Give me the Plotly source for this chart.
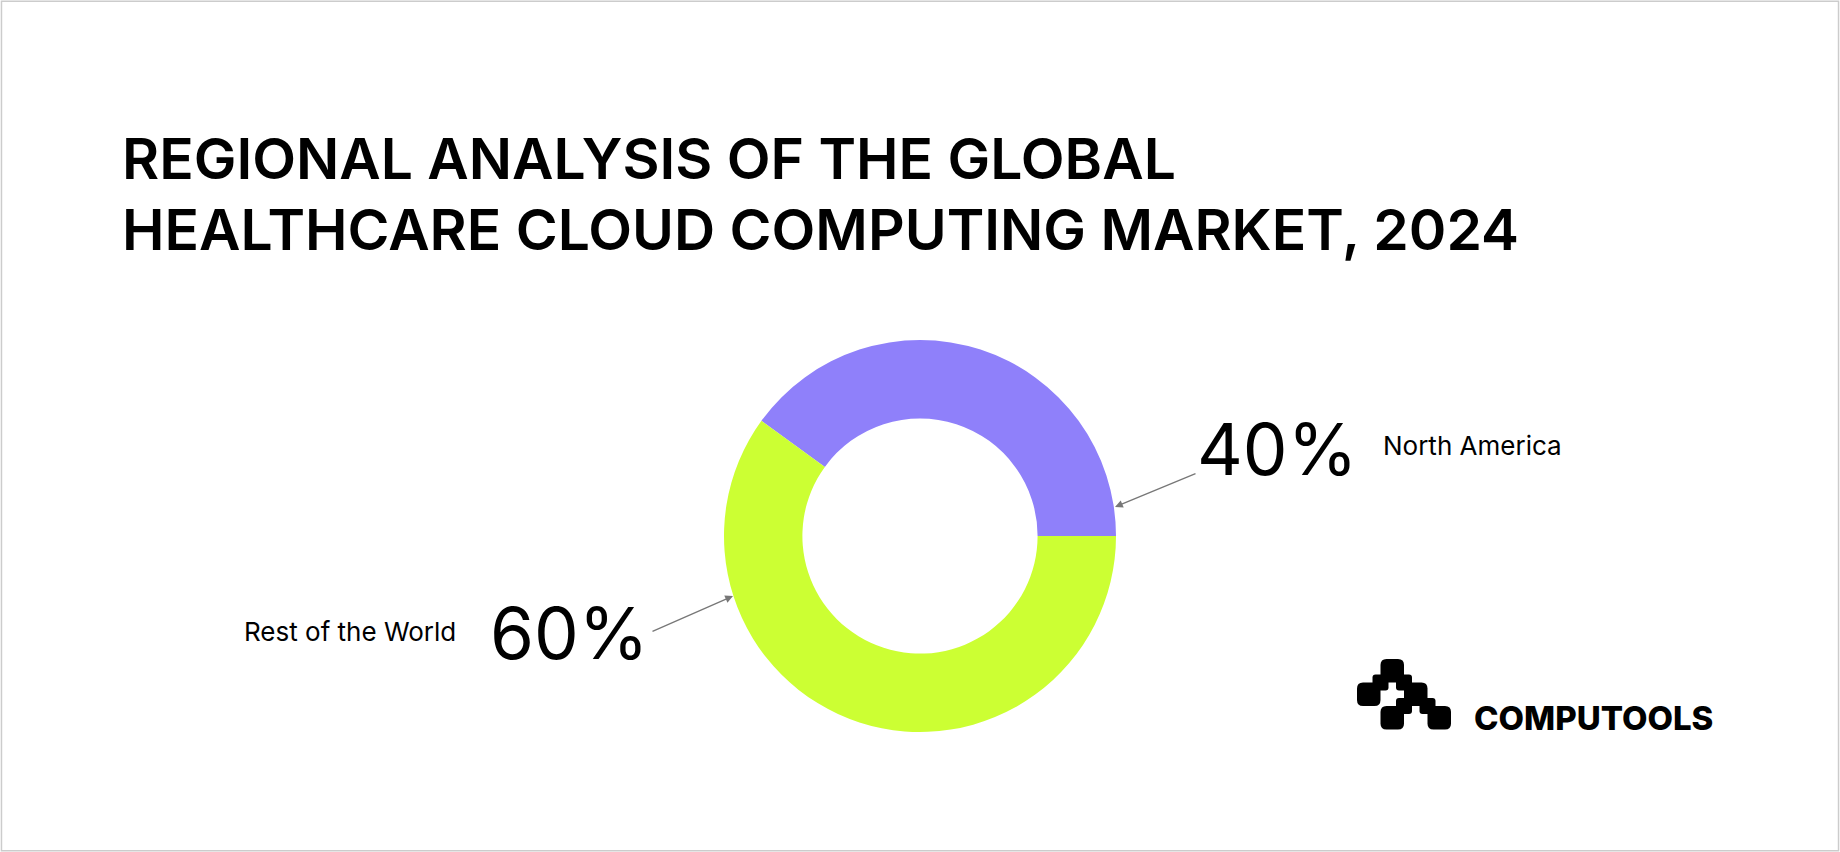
import plotly.graph_objects as go

regions = ["North America", "Rest of the World"]
shares = [40, 60]
colors = ["#8F80FA", "#CCFF33"]

W, H = 1840, 852
fig = go.Figure()
cx, cy, r = 920, 536, 196
fig.add_trace(go.Pie(labels=regions, values=shares, hole=0.6, sort=False,
                     direction="clockwise", rotation=-54,
                     marker=dict(colors=colors, line=dict(width=0)),
                     textinfo="none", hoverinfo="label+percent", showlegend=False,
                     domain=dict(x=[(cx - r) / W, (cx + r) / W], y=[(H - cy - r) / H, (H - cy + r) / H])))

def px(x, y):
    return x / W, 1 - y / H

ann = []
def t(x, y, text, size, xa="left", weight=400, fam="Inter"):
    X, Y = px(x, y)
    ann.append(dict(x=X, y=Y, xref="paper", yref="paper", text=text, showarrow=False,
                    xanchor=xa, yanchor="middle", font=dict(family=fam, size=size, color="#000", weight=weight)))

t(120, 158, "REGIONAL ANALYSIS OF THE GLOBAL", 57, weight=600)
t(120, 229, "HEALTHCARE CLOUD COMPUTING MARKET, 2024", 57, weight=600)
t(1195, 449, f"{shares[0]}%", 71)
t(1381, 445, regions[0], 26)
t(488, 633, f"{shares[1]}%", 71)
t(458, 631, regions[1], 26, xa="right")
t(1472, 718, "COMPUTOOLS", 33, weight=800)

for (x0, y0, x1, y1) in [(1197, 473, 1115, 507), (651, 632, 733, 596)]:
    X1, Y1 = px(x1, y1)
    ann.append(dict(x=X1, y=Y1, ax=x0 - x1, ay=y0 - y1, xref="paper", yref="paper", axref="pixel", ayref="pixel",
                    text="", showarrow=True, arrowhead=2, arrowsize=1.2, arrowwidth=1.3, arrowcolor="#777"))

shapes = [dict(type="rect", xref="paper", yref="paper", x0=0.0008, y0=0.0015, x1=0.9992, y1=0.9985,
               line=dict(color="#CCCCCC", width=1.5))]

def rrect(x0, y0, x1, y1, rad=6):
    X = lambda v: v / W
    Y = lambda v: 1 - v / H
    p = (f"M {X(x0+rad)},{Y(y0)} L {X(x1-rad)},{Y(y0)} Q {X(x1)},{Y(y0)} {X(x1)},{Y(y0+rad)} "
         f"L {X(x1)},{Y(y1-rad)} Q {X(x1)},{Y(y1)} {X(x1-rad)},{Y(y1)} L {X(x0+rad)},{Y(y1)} "
         f"Q {X(x0)},{Y(y1)} {X(x0)},{Y(y1-rad)} L {X(x0)},{Y(y0+rad)} Q {X(x0)},{Y(y0)} {X(x0+rad)},{Y(y0)} Z")
    return dict(type="path", xref="paper", yref="paper", path=p, fillcolor="#000", line=dict(width=0))

s = 23.5
cells = [(1, 0), (0, 1), (2, 1), (1, 2), (3, 2)]
ox, oy = 1357, 659
for c, rr in cells:
    x0 = ox + c * s; y0 = oy + rr * s
    shapes.append(rrect(x0, y0, x0 + s, y0 + s))
for (jx, jy) in [(1, 1), (2, 1), (2, 2), (3, 2)]:
    x = ox + jx * s; y = oy + jy * s
    shapes.append(rrect(x - 8, y - 8, x + 8, y + 8, rad=3))

fig.update_layout(width=W, height=H, margin=dict(l=0, r=0, t=0, b=0),
                  paper_bgcolor="white", plot_bgcolor="white", annotations=ann, shapes=shapes)
fig.write_html("out.html", config={"displayModeBar": False}, post_script="document.body.style.margin='0';")
